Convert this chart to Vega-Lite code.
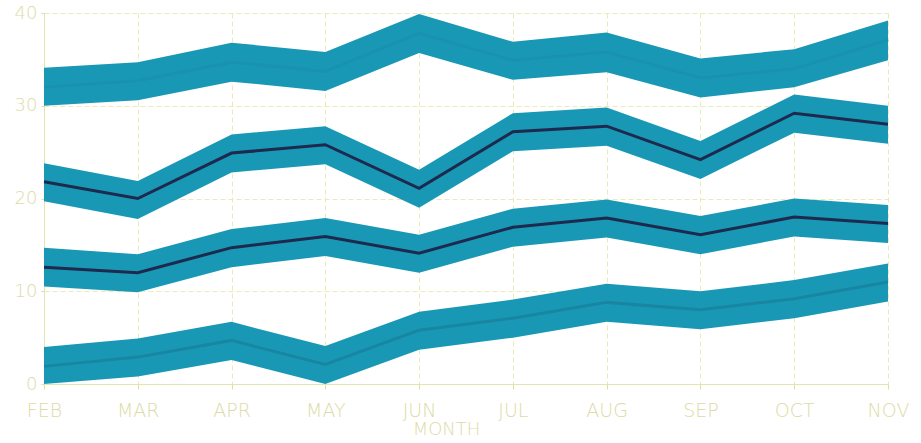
{
  "$schema": "https://vega.github.io/schema/vega-lite/v6.json",
  "width": 844,
  "height": 371,
  "autosize": {"type": "none"},
  "padding": {"left": 44, "top": 13, "right": 33, "bottom": 59},
  "background": "#ffffff",
  "config": {
    "view": {"stroke": null},
    "axis": {
      "labelFont": "DejaVu Sans",
      "titleFont": "DejaVu Sans",
      "labelColor": "#dcdca6",
      "titleColor": "#dcdca6",
      "gridColor": "#ecebb8",
      "gridDash": [5, 3],
      "gridWidth": 1,
      "domainColor": "#e4e4b0",
      "tickColor": "#dede9e",
      "labelFontWeight": 200,
      "titleFontWeight": 200
    }
  },
  "data": {
    "values": [
      {"month": "FEB", "s": "A", "v": 32.0, "lo": 30.0, "hi": 34.1},
      {"month": "MAR", "s": "A", "v": 32.7, "lo": 30.6, "hi": 34.7},
      {"month": "APR", "s": "A", "v": 34.7, "lo": 32.6, "hi": 36.8},
      {"month": "MAY", "s": "A", "v": 33.7, "lo": 31.6, "hi": 35.8},
      {"month": "JUN", "s": "A", "v": 37.8, "lo": 35.7, "hi": 39.9},
      {"month": "JUL", "s": "A", "v": 34.9, "lo": 32.8, "hi": 36.9},
      {"month": "AUG", "s": "A", "v": 35.8, "lo": 33.6, "hi": 37.9},
      {"month": "SEP", "s": "A", "v": 33.0, "lo": 30.9, "hi": 35.1},
      {"month": "OCT", "s": "A", "v": 34.0, "lo": 32.0, "hi": 36.1},
      {"month": "NOV", "s": "A", "v": 37.1, "lo": 34.9, "hi": 39.2},
      {"month": "FEB", "s": "B", "v": 21.8, "lo": 19.7, "hi": 23.8},
      {"month": "MAR", "s": "B", "v": 20.0, "lo": 17.8, "hi": 21.9},
      {"month": "APR", "s": "B", "v": 24.9, "lo": 22.8, "hi": 26.9},
      {"month": "MAY", "s": "B", "v": 25.8, "lo": 23.7, "hi": 27.8},
      {"month": "JUN", "s": "B", "v": 21.1, "lo": 19.0, "hi": 23.1},
      {"month": "JUL", "s": "B", "v": 27.2, "lo": 25.1, "hi": 29.2},
      {"month": "AUG", "s": "B", "v": 27.8, "lo": 25.7, "hi": 29.8},
      {"month": "SEP", "s": "B", "v": 24.2, "lo": 22.1, "hi": 26.2},
      {"month": "OCT", "s": "B", "v": 29.2, "lo": 27.1, "hi": 31.2},
      {"month": "NOV", "s": "B", "v": 28.0, "lo": 25.9, "hi": 30.0},
      {"month": "FEB", "s": "C", "v": 12.6, "lo": 10.5, "hi": 14.7},
      {"month": "MAR", "s": "C", "v": 12.0, "lo": 9.9, "hi": 14.0},
      {"month": "APR", "s": "C", "v": 14.7, "lo": 12.6, "hi": 16.7},
      {"month": "MAY", "s": "C", "v": 15.9, "lo": 13.8, "hi": 17.9},
      {"month": "JUN", "s": "C", "v": 14.1, "lo": 12.0, "hi": 16.1},
      {"month": "JUL", "s": "C", "v": 16.9, "lo": 14.8, "hi": 18.9},
      {"month": "AUG", "s": "C", "v": 17.9, "lo": 15.8, "hi": 19.9},
      {"month": "SEP", "s": "C", "v": 16.1, "lo": 14.0, "hi": 18.1},
      {"month": "OCT", "s": "C", "v": 18.0, "lo": 15.9, "hi": 20.0},
      {"month": "NOV", "s": "C", "v": 17.3, "lo": 15.2, "hi": 19.3},
      {"month": "FEB", "s": "D", "v": 1.9, "lo": -0.1, "hi": 4.0},
      {"month": "MAR", "s": "D", "v": 2.9, "lo": 0.8, "hi": 4.9},
      {"month": "APR", "s": "D", "v": 4.7, "lo": 2.6, "hi": 6.7},
      {"month": "MAY", "s": "D", "v": 2.1, "lo": 0.0, "hi": 4.1},
      {"month": "JUN", "s": "D", "v": 5.8, "lo": 3.7, "hi": 7.8},
      {"month": "JUL", "s": "D", "v": 7.1, "lo": 5.0, "hi": 9.1},
      {"month": "AUG", "s": "D", "v": 8.8, "lo": 6.7, "hi": 10.8},
      {"month": "SEP", "s": "D", "v": 8.0, "lo": 5.9, "hi": 10.0},
      {"month": "OCT", "s": "D", "v": 9.2, "lo": 7.1, "hi": 11.2},
      {"month": "NOV", "s": "D", "v": 11.0, "lo": 8.9, "hi": 13.0}
    ]
  },
  "encoding": {
    "x": {
      "field": "month",
      "type": "ordinal",
      "sort": ["FEB", "MAR", "APR", "MAY", "JUN", "JUL", "AUG", "SEP", "OCT", "NOV"],
      "scale": {"type": "point", "padding": 0},
      "axis": {
        "title": "MONTH",
        "titleFontSize": 18,
        "titlePadding": 0,
        "titleX": 402,
        "labelFontSize": 19,
        "labelPadding": 12,
        "labelAngle": 0,
        "tickSize": 5,
        "grid": true
      }
    }
  },
  "layer": [
    {
      "mark": {"type": "area", "color": "#1998b6", "opacity": 1},
      "encoding": {
        "detail": {"field": "s"},
        "y": {
          "field": "lo",
          "type": "quantitative",
          "scale": {"domain": [0, 40], "nice": false, "clamp": true},
          "axis": {
            "title": null,
            "values": [0, 10, 20, 30, 40],
            "labelFontSize": 18,
            "labelPadding": 4,
            "tickSize": 3,
            "grid": true
          }
        },
        "y2": {"field": "hi"}
      }
    },
    {
      "mark": {"type": "line", "strokeWidth": 3},
      "encoding": {
        "y": {"field": "v", "type": "quantitative"},
        "color": {
          "field": "s",
          "type": "nominal",
          "legend": null,
          "scale": {"domain": ["A", "B", "C", "D"], "range": ["#1892af", "#1d2a4e", "#1d2a4e", "#1886a2"]}
        }
      }
    }
  ]
}
